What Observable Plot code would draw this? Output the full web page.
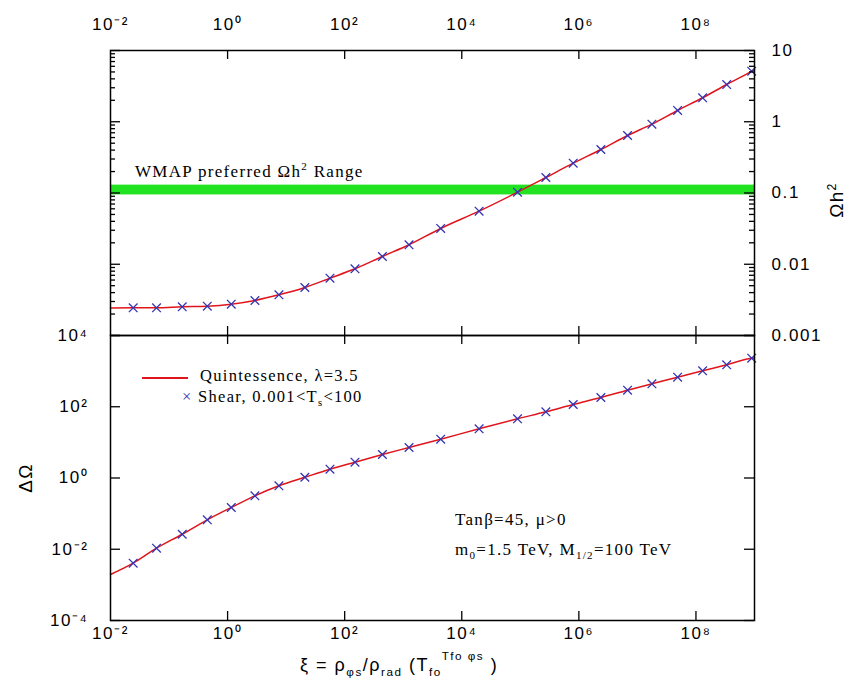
<!DOCTYPE html>
<html><head><meta charset="utf-8">
<script src="https://cdn.jsdelivr.net/npm/d3@7"></script>
<script src="https://cdn.jsdelivr.net/npm/@observablehq/plot@0.6"></script>
<style>
body{margin:0;background:#fff;}
#wrap{position:relative;width:852px;height:683px;overflow:hidden;}
#wrap svg{position:absolute;left:0;}
#wrap svg text{letter-spacing:1.6px;}
.t{position:absolute;white-space:nowrap;line-height:20px;font-family:"Liberation Serif",serif;font-size:17px;color:#000;letter-spacing:1.3px;}
.lg{line-height:16px;font-size:16.5px;}
.s{font-family:"Liberation Sans",sans-serif;}
sub,sup{font-size:65%;line-height:0;}
</style></head><body><div id="wrap"></div>
<script>
// ---- data ----
const xiMarks = [0.0244, 0.0611, 0.168, 0.450, 1.156, 2.93, 7.53, 20.9, 56.1, 150, 441, 1256, 4365,
  19770, 89540, 272900, 800000, 2.377e6, 6.79e6, 1.77e7, 4.86e7, 1.30e8, 3.35e8, 8.95e8];
const omegaMarks = [0.00245, 0.00245, 0.00253, 0.00258, 0.00275, 0.00310, 0.00372, 0.00472, 0.00637, 0.00863,
  0.01285, 0.01875, 0.0318, 0.0556, 0.1026, 0.165, 0.262, 0.408, 0.641, 0.925, 1.44, 2.17, 3.33, 5.12];
const deltaMarks = [0.00406, 0.0107, 0.0264, 0.0671, 0.1486, 0.316, 0.604, 1.05, 1.77, 2.78, 4.57, 7.18, 12.3,
  24.0, 45.9, 72.1, 115.7, 182, 292, 441, 675, 1021, 1506, 2305];
// line (quintessence) – same points plus the ends at the frame edges
const xiLine = [0.01, ...xiMarks, 1e9];
const omegaLine = [0.00244, ...omegaMarks, 5.41];
const deltaLine = [0.00195, ...deltaMarks, 2330];
const wmapRange = [0.094, 0.129];
const xTicks = [1e-2, 1, 1e2, 1e4, 1e6, 1e8];
const xTickLabels = ["10⁻²", "10⁰", "10²", "10⁴", "10⁶", "10⁸"];
const omegaTicks = [0.001, 0.01, 0.1, 1, 10];
const omegaTickLabels = ["0.001", "0.01", "0.1", "1", "10"];
const deltaTicks = [1e-4, 1e-2, 1, 1e2, 1e4];
const deltaTickLabels = ["10⁻⁴", "10⁻²", "10⁰", "10²", "10⁴"];

// ---- layout ----
const W = 852, ML = 110, MR = 98, FW = W - ML - MR, FH = 285;
const RED = "#e0141a", BLUE = "#3434b4", GREEN = "#22e322";
const omegaMinor = [0.001, 0.01, 0.1, 1].flatMap(d => d3.range(2, 10).map(k => k * d));
const xInner = xTicks.slice(1);

const lineData = (ys) => xiLine.map((x, i) => ({x, y: ys[i]}));
const dotData = (ys) => xiMarks.map((x, i) => ({x, y: ys[i]}));
const tkY = (vals, len, side) => Plot.tickY(vals, {y: d => d, stroke: "#000", strokeWidth: 1.3,
  insetLeft: side === "right" ? FW - len : 0, insetRight: side === "left" ? FW - len : 0});
const tkX = (vals, len, side) => Plot.tickX(vals, {x: d => d, stroke: "#000", strokeWidth: 1.3,
  insetTop: side === "bottom" ? FH - len : 0, insetBottom: side === "top" ? FH - len : 0});
const fmt = (ticks, labels) => d => labels[ticks.findIndex(t => Math.abs(Math.log10(t) - Math.log10(d)) < 1e-6)];
const baseStyle = {background: "transparent", overflow: "visible", fontFamily: "'Liberation Sans', sans-serif", fontSize: "17px", color: "#000"};

const upper = Plot.plot({
  width: W, height: 340, marginLeft: ML, marginRight: MR, marginTop: 50, marginBottom: 5,
  x: {type: "log", domain: [1e-2, 1e9]},
  y: {type: "log", domain: [1e-3, 10]},
  style: baseStyle,
  marks: [
    Plot.rect([wmapRange], {y1: d => d[0], y2: d => d[1], fill: GREEN}),
    Plot.line(lineData(omegaLine), {x: "x", y: "y", stroke: RED, strokeWidth: 1.5, curve: "monotone-x"}),
    Plot.dot(dotData(omegaMarks), {x: "x", y: "y", symbol: "times", r: 4, stroke: BLUE, strokeWidth: 1.3}),
    tkY(omegaMinor, 5, "left"), tkY(omegaMinor, 5, "right"),
    tkY(omegaTicks, 10, "left"), tkY(omegaTicks, 10, "right"),
    tkX(xInner, 9, "top"), tkX(xInner, 9, "bottom"),
    Plot.frame({stroke: "#000", strokeWidth: 1.5}),
    Plot.axisX({anchor: "top", ticks: xTicks, tickFormat: fmt(xTicks, xTickLabels), tickSize: 0, tickPadding: 21, label: null, fontSize: 17}),
    Plot.axisY({anchor: "right", ticks: omegaTicks, tickFormat: fmt(omegaTicks, omegaTickLabels), tickSize: 0, tickPadding: 17, label: null, fontSize: 17})
  ]
});
upper.style.top = "0px";

const lower = Plot.plot({
  width: W, height: 353, marginLeft: ML, marginRight: MR, marginTop: 5, marginBottom: 63,
  x: {type: "log", domain: [1e-2, 1e9]},
  y: {type: "log", domain: [1e-4, 1e4]},
  style: baseStyle,
  marks: [
    Plot.line(lineData(deltaLine), {x: "x", y: "y", stroke: RED, strokeWidth: 1.5, curve: "monotone-x"}),
    Plot.dot(dotData(deltaMarks), {x: "x", y: "y", symbol: "times", r: 4, stroke: BLUE, strokeWidth: 1.3}),
    tkY(deltaTicks, 10, "left"), tkY(deltaTicks, 10, "right"),
    tkX(xInner, 9, "top"), tkX(xInner, 9, "bottom"),
    Plot.frame({stroke: "#000", strokeWidth: 1.5}),
    Plot.axisX({anchor: "bottom", ticks: xTicks, tickFormat: fmt(xTicks, xTickLabels), tickSize: 0, tickPadding: 6, label: null, fontSize: 17}),
    Plot.axisY({anchor: "left", ticks: deltaTicks, tickFormat: fmt(deltaTicks, deltaTickLabels), tickSize: 0, tickPadding: 22, label: null, fontSize: 17})
  ]
});
lower.style.top = "330px";

const wrap = document.getElementById("wrap");
wrap.append(upper, lower);

const html = `
<div class="t" style="left:135px;top:162px;">WMAP preferred Ωh<sup>2</sup> Range</div>
<div style="position:absolute;left:142px;top:377px;width:46px;height:2px;background:${RED};"></div>
<div class="t lg" style="left:200px;top:368px;">Quintessence, λ=3.5</div>
<div class="t lg" style="left:182px;top:389px;"><span style="color:${BLUE}">×</span> Shear, 0.001&lt;T<sub>s</sub>&lt;100</div>
<div class="t" style="left:455px;top:510px;">Tanβ=45, μ&gt;0</div>
<div class="t" style="left:455px;top:540px;">m<sub>0</sub>=1.5 TeV, M<sub>1/2</sub>=100 TeV</div>
<div class="t s" style="left:26px;top:478px;font-size:19px;transform:translate(-50%,-50%) rotate(-90deg);">ΔΩ</div>
<div class="t s" style="left:837px;top:200px;font-size:19px;transform:translate(-50%,-50%) rotate(-90deg);">Ωh<sup>2</sup></div>
<div class="t s" style="left:300px;top:655px;font-size:18px;letter-spacing:1.5px;">ξ = ρ<sub>φs</sub>/ρ<sub>rad</sub> (T<sub>fo</sub><sup style="position:relative;top:-4px;">Tfo φs</sup>&nbsp;)</div>
`;
wrap.insertAdjacentHTML("beforeend", html);
</script></body></html>
